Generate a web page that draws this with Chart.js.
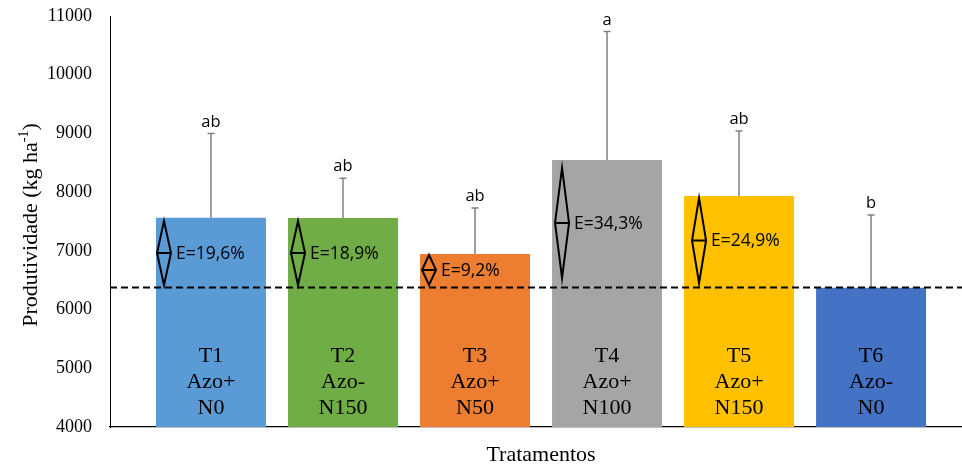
<!DOCTYPE html>
<html>
<head>
<meta charset="utf-8">
<script src="https://cdn.jsdelivr.net/npm/chart.js@4.4.0/dist/chart.umd.min.js"></script>
<style>
  html, body { margin: 0; padding: 0; background: #fff; }
</style>
</head>
<body>
<canvas id="chart" width="962" height="465"></canvas>
<script>
// data
const treatments = ['T1', 'T2', 'T3', 'T4', 'T5', 'T6'];
const inoculation = ['Azo+', 'Azo-', 'Azo+', 'Azo+', 'Azo+', 'Azo-'];
const nitrogen = ['N0', 'N150', 'N50', 'N100', 'N150', 'N0'];
const yieldMean = [7565, 7560, 6947, 8549, 7935, 6373];
const yieldErr = [1432, 677, 784, 2185, 1108, 1239];
const letters = ['ab', 'ab', 'ab', 'a', 'ab', 'b'];
const efficiency = ['E=19,6%', 'E=18,9%', 'E=9,2%', 'E=34,3%', 'E=24,9%', null];
const diamondLow = [6419, 6419, 6419, 6538, 6453, null];
const diamondHigh = [7509, 7509, 6930, 8412, 7901, null];
const referenceLine = 6375;
const yMin = 4000, yMax = 11000, yStep = 1000;

const barColors = ['#5B9BD5', '#70AD47', '#ED7D31', '#A5A5A5', '#FFC000', '#4472C4'];
const diamondShift = [1, 3, 2, 3, 8, 0];

const serif = '"Liberation Serif", "Times New Roman", serif';
const sans = '"Open Sans", "Noto Sans", sans-serif';

const annotations = {
  id: 'annotations',
  afterDatasetsDraw(chart) {
    const ctx = chart.ctx;
    const y = chart.scales.y;
    const area = chart.chartArea;
    const bars = chart.getDatasetMeta(0).data;
    ctx.save();

    // error bars + letters
    bars.forEach((bar, i) => {
      const top = y.getPixelForValue(yieldMean[i] + yieldErr[i]);
      ctx.strokeStyle = '#808080';
      ctx.lineWidth = 1.5;
      ctx.beginPath();
      ctx.moveTo(bar.x, bar.y);
      ctx.lineTo(bar.x, top);
      ctx.moveTo(bar.x - 3.5, top);
      ctx.lineTo(bar.x + 3.5, top);
      ctx.stroke();

      ctx.fillStyle = '#000';
      ctx.font = '16.5px ' + sans;
      ctx.textAlign = 'center';
      ctx.textBaseline = 'alphabetic';
      ctx.fillText(letters[i], bar.x, top - 7);
    });

    // dashed reference line
    const ry = y.getPixelForValue(referenceLine);
    ctx.strokeStyle = '#000';
    ctx.lineWidth = 2;
    ctx.setLineDash([7, 4]);
    ctx.beginPath();
    ctx.moveTo(area.left, ry);
    ctx.lineTo(area.right, ry);
    ctx.stroke();
    ctx.setLineDash([]);

    // diamonds with efficiency labels
    bars.forEach((bar, i) => {
      if (efficiency[i] === null) return;
      const left = bar.x - bar.width / 2 + diamondShift[i];
      const hw = 7;
      const cx = left + hw;
      const y0 = y.getPixelForValue(diamondHigh[i]);
      const y1 = y.getPixelForValue(diamondLow[i]);
      const cy = (y0 + y1) / 2;
      ctx.strokeStyle = '#000';
      ctx.lineWidth = 2;
      ctx.beginPath();
      ctx.moveTo(cx, y0);
      ctx.lineTo(cx + hw, cy);
      ctx.lineTo(cx, y1);
      ctx.lineTo(cx - hw, cy);
      ctx.closePath();
      ctx.moveTo(cx - hw, cy);
      ctx.lineTo(cx + hw, cy);
      ctx.stroke();

      ctx.fillStyle = '#000';
      ctx.font = '17.5px ' + sans;
      ctx.textAlign = 'left';
      ctx.textBaseline = 'middle';
      ctx.fillText(efficiency[i], cx + hw + 5, cy + 1);
    });

    // treatment labels inside bars
    ctx.font = '22px ' + serif;
    ctx.textAlign = 'center';
    ctx.textBaseline = 'alphabetic';
    ctx.fillStyle = '#000';
    bars.forEach((bar, i) => {
      ctx.fillText(treatments[i], bar.x, 362);
      ctx.fillText(inoculation[i], bar.x, 388);
      ctx.fillText(nitrogen[i], bar.x, 414);
    });

    // x axis title
    ctx.font = '22px ' + serif;
    ctx.fillText('Tratamentos', 541, 461);

    // y axis title with superscript
    ctx.translate(31, 225);
    ctx.rotate(-Math.PI / 2);
    const main = 'Produtividade (kg ha';
    const sup = '-1';
    const close = ')';
    ctx.font = '22px ' + serif;
    const wMain = ctx.measureText(main).width;
    const wClose = ctx.measureText(close).width;
    ctx.font = '14px ' + serif;
    const wSup = ctx.measureText(sup).width;
    let x = -(wMain + wSup + wClose) / 2;
    ctx.textAlign = 'left';
    ctx.textBaseline = 'middle';
    ctx.font = '22px ' + serif;
    ctx.fillText(main, x, 0);
    x += wMain;
    ctx.font = '14px ' + serif;
    ctx.fillText(sup, x, -7);
    x += wSup;
    ctx.font = '22px ' + serif;
    ctx.fillText(close, x, 0);

    ctx.restore();
  }
};

new Chart(document.getElementById('chart'), {
  type: 'bar',
  data: {
    datasets: [{
      data: yieldMean.map((v, i) => ({ x: i + 1, y: v })),
      backgroundColor: barColors,
      barPercentage: 0.833,
      categoryPercentage: 1
    }]
  },
  options: {
    responsive: false,
    animation: false,
    devicePixelRatio: 1,
    layout: { padding: { top: 16, bottom: 38, left: 0, right: 0 } },
    plugins: {
      legend: { display: false },
      tooltip: { enabled: false }
    },
    scales: {
      x: {
        type: 'linear',
        min: 0.235,
        max: 6.689,
        offset: false,
        ticks: { display: false },
        afterBuildTicks: (s) => { s.ticks = treatments.map((_, i) => ({ value: i + 1 })); },
        grid: { display: false },
        border: { color: '#000', width: 1.3 },
        afterFit: (s) => { s.height = 0; }
      },
      y: {
        min: yMin,
        max: yMax,
        ticks: {
          stepSize: yStep,
          padding: 18,
          color: '#000',
          font: { family: serif, size: 18 },
          callback: (v) => String(v)
        },
        grid: { display: false, drawTicks: false },
        border: { color: '#000', width: 1 },
        afterFit: (s) => {
          s.width = 110;
          s.paddingTop = 0;
          s.paddingBottom = 0;
        }
      }
    }
  },
  plugins: [annotations]
});
</script>
</body>
</html>
